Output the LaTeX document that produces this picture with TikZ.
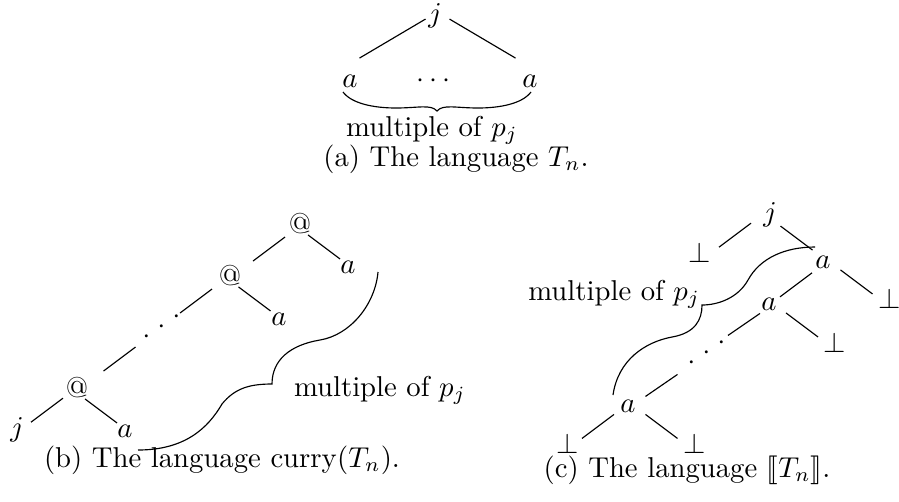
\documentclass[tikz,border=0pt]{standalone}
\usepackage{amsmath,amssymb}
\usepackage{stmaryrd}
\usetikzlibrary{calc}

\begin{document}
\begin{tikzpicture}[x=0.3484pt,y=-0.3484pt,
    sym/.style={anchor=base,inner sep=0.5pt},
    updots/.style={rotate=34,inner sep=0pt}]
  \useasboundingbox (0,0) rectangle (899,501);

  \node[sym] (aj) at (435,22) {$j$};
  \node[sym] (aa1) at (350,87) {$a$};
  \node[sym] (adots) at (436,87) {$\cdots$};
  \node[sym] (aa2) at (530,87) {$a$};
  \draw ($(aj)!.5!(aa1)$) +(33,-29) -- +(-33,10);
  \draw ($(aj)!.5!(aa2)$) +(-33,-29) -- +(33,10);
  \coordinate (abraceL) at (343,92);
  \coordinate (abraceTip) at (437,111);
  \coordinate (abraceR) at (531,92);
  \draw (abraceL) .. controls (352,104) and (375,108) .. (396,108)
        .. controls (418,108) and (431,104) .. (abraceTip)
        .. controls (443,104) and (456,108) .. (478,108)
        .. controls (499,108) and (522,104) .. (abraceR);
  \node[sym] (amult) at (432,136) {multiple of $p_j$};
  \node[sym] (acap) at (456,166) {(a) The language $T_n$.};

  \node[sym] (bat1) at (300,233) {@};
  \node[sym] (ba1) at (348,273) {$a$};
  \node[sym] (bat2) at (230,285) {@};
  \node[sym] (ba2) at (279,325) {$a$};
  \node[updots] (bdots) at (162,327) {${\cdot}\kern3.5pt{\cdot}\kern3.5pt{\cdot}$};
  \node[sym] (bat3) at (77,397) {@};
  \node[sym] (bj) at (17,436) {$j$};
  \node[sym] (ba3) at (125,437) {$a$};
  \draw ($(bat1)!.5!(bat2)$) +(20,-12) -- +(-12,12);
  \draw ($(bat1)!.5!(ba1)$) +(-16,-10) -- +(16,14);
  \draw ($(bat2)!.5!(bdots)$) +(16,-12) -- +(-16,12);
  \draw ($(bat2)!.5!(ba2)$) +(-16,-10) -- +(16,14);
  \draw ($(bdots)!.5!(bat3)$) +(16,-10) -- +(-16,14);
  \draw ($(bat3)!.5!(bj)$) +(16,-10) -- +(-16,14);
  \draw ($(bat3)!.5!(ba3)$) +(-16,-10) -- +(16,14);
  \coordinate (bbraceB) at (138,450);
  \coordinate (bbraceTip) at (272,384);
  \coordinate (bbraceT) at (378,272);
  \draw (bbraceB) .. controls (185,450) and (208,428) .. (222,404)
        .. controls (235,388) and (250,384) .. (bbraceTip)
        .. controls (272,360) and (290,345) .. (320,340)
        .. controls (350,335) and (375,305) .. (bbraceT);
  \node[sym,anchor=base west] (bmult) at (292,396) {multiple of $p_j$};
  \node[sym] (bcap) at (222,467) {(b) The language $\mathrm{curry}(T_n)$.};

  \node[sym] (cj) at (770,221) {$j$};
  \node[sym] (cb1) at (700,262) {$\bot$};
  \node[sym] (ca1) at (823,268) {$a$};
  \node[sym] (cb2) at (890,308) {$\bot$};
  \node[sym] (ca2) at (769,310) {$a$};
  \node[sym] (cb3) at (835,352) {$\bot$};
  \node[updots] (cdots) at (707,353) {${\cdot}\kern3.5pt{\cdot}\kern3.5pt{\cdot}$};
  \node[sym] (ca3) at (628,412) {$a$};
  \node[sym] (cb4) at (568,453) {$\bot$};
  \node[sym] (cb5) at (695,453) {$\bot$};
  \draw ($(cj)!.5!(cb1)$) +(16,-10) -- +(-16,14);
  \draw ($(cj)!.5!(ca1)$) +(-16,-12) -- +(16,12);
  \draw ($(ca1)!.5!(ca2)$) +(16,-10) -- +(-16,14);
  \draw ($(ca1)!.5!(cb2)$) +(-16,-10) -- +(16,14);
  \draw ($(ca2)!.5!(cdots)$) +(22,-15) -- +(-10,7);
  \draw ($(ca2)!.5!(cb3)$) +(-16,-10) -- +(16,14);
  \draw ($(cdots)!.5!(ca3)$) +(10,-5) -- +(-22,17);
  \draw ($(ca3)!.5!(cb4)$) +(16,-10) -- +(-16,14);
  \draw ($(ca3)!.5!(cb5)$) +(-16,-10) -- +(16,14);
  \coordinate (cbraceB) at (613,395);
  \coordinate (cbraceTip) at (702,305);
  \coordinate (cbraceT) at (815,247);
  \draw (cbraceB) .. controls (618,360) and (645,342) .. (672,337)
        .. controls (695,333) and (702,320) .. (cbraceTip)
        .. controls (718,305) and (738,298) .. (748,280)
        .. controls (760,258) and (785,247) .. (cbraceT);
  \node[sym,anchor=base east] (cmult) at (702,300) {multiple of $p_j$};
  \node[sym] (ccap) at (687,477) {(c) The language $\llbracket T_n\rrbracket$.};
\end{tikzpicture}
\end{document}
